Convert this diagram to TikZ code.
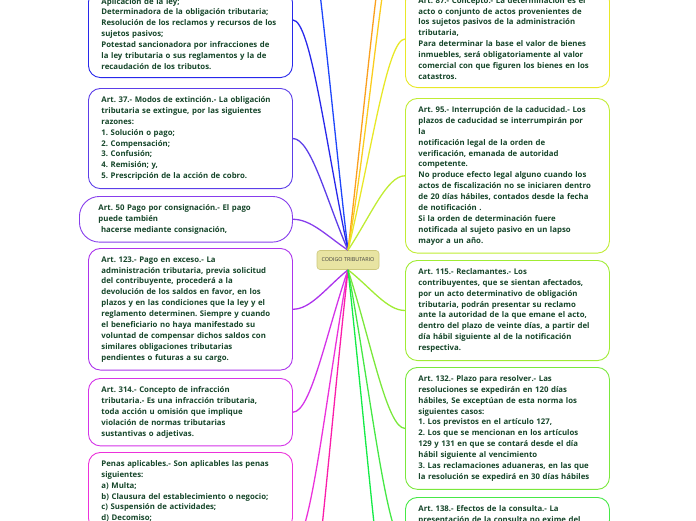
\documentclass[tikz,border=0pt]{standalone}
\usepackage{fontspec}
\setmainfont{Open Sans}
\usepackage{tikz}
\usetikzlibrary{positioning}
\frenchspacing

\definecolor{txtgreen}{RGB}{22,70,42}
\definecolor{cA}{RGB}{40,40,235}
\definecolor{cB}{RGB}{92,62,232}
\definecolor{cC}{RGB}{135,62,236}
\definecolor{cD}{RGB}{172,52,236}
\definecolor{cE}{RGB}{212,52,232}
\definecolor{cF}{RGB}{236,50,218}
\definecolor{cG}{RGB}{232,232,40}
\definecolor{cH}{RGB}{192,236,52}
\definecolor{cI}{RGB}{160,236,52}
\definecolor{cJ}{RGB}{122,232,60}
\definecolor{cK}{RGB}{70,232,70}
\definecolor{upblue}{RGB}{30,70,250}
\definecolor{uporange}{RGB}{250,160,30}
\definecolor{upgold}{RGB}{250,205,30}
\definecolor{dnpink}{RGB}{250,30,170}
\definecolor{dngreen}{RGB}{20,235,70}
\definecolor{hubfill}{RGB}{232,228,162}
\definecolor{hubdraw}{RGB}{205,200,125}

\begin{document}
\begin{tikzpicture}[
  x=1pt,y=-1pt,
  art/.style={draw,fill=white,rounded corners=12pt,line width=0.9pt,
    align=left,text width=178pt,inner xsep=13pt,inner ysep=8pt,
    font=\fontsize{7.8}{10.9}\selectfont\bfseries,text=txtgreen},
  lnk/.style={line width=1.3pt}
]
  \useasboundingbox (0,0) rectangle (696,520);

  \node[draw=hubdraw,fill=hubfill,rounded corners=3pt,line width=0.6pt,
        minimum width=62pt,minimum height=19pt,inner sep=1pt,
        font=\fontsize{5.4}{6}\selectfont,text=black!75] (cod) at (348,260) {CODIGO TRIBUTARIO};

  % left side
  \node[art,draw=cA,anchor=south west] (aplic) at (88,78)
    {Aplicación de la ley;\\
     Determinadora de la obligación tributaria;\\
     Resolución de los reclamos y recursos de los\\
     sujetos pasivos;\\
     Potestad sancionadora por infracciones de\\
     la ley tributaria o sus reglamentos y la de\\
     recaudación de los tributos.};
  \node[art,draw=cB,anchor=north west] (extin) at (88,88)
    {Art. 37.- Modos de extinción.- La obligación\\
     tributaria se extingue, por las siguientes\\
     razones:\\
     1. Solución o pago;\\
     2. Compensación;\\
     3. Confusión;\\
     4. Remisión; y,\\
     5. Prescripción de la acción de cobro.};
  \node[art,draw=cC,anchor=north west,rounded corners=20pt,
        inner xsep=19pt,text width=175pt] (consig) at (79,196)
    {Art. 50 Pago por consignación.- El pago\\
     puede también\\
     \ hacerse mediante consignación,};
  \node[art,draw=cD,anchor=north west] (exceso) at (88,248)
    {Art. 123.- Pago en exceso.- La\\
     administración tributaria, previa solicitud\\
     del contribuyente, procederá a la\\
     devolución de los saldos en favor, en los\\
     plazos y en las condiciones que la ley y el\\
     reglamento determinen. Siempre y cuando\\
     el beneficiario no haya manifestado su\\
     voluntad de compensar dichos saldos con\\
     similares obligaciones tributarias\\
     pendientes o futuras a su cargo.};
  \node[art,draw=cE,anchor=north west] (infrac) at (88,378)
    {Art. 314.- Concepto de infracción\\
     tributaria.- Es una infracción tributaria,\\
     toda acción u omisión que implique\\
     violación de normas tributarias\\
     sustantivas o adjetivas.};
  \node[art,draw=cF,anchor=north west] (penas) at (88,452)
    {Penas aplicables.- Son aplicables las penas\\
     siguientes:\\
     a) Multa;\\
     b) Clausura del establecimiento o negocio;\\
     c) Suspensión de actividades;\\
     d) Decomiso;};

  % right side
  \node[art,draw=cG,anchor=south west] (concep) at (405,88)
    {Art. 87.- Concepto.- La determinación es el\\
     acto o conjunto de actos provenientes de\\
     los sujetos pasivos de la administración\\
     tributaria,\\
     Para determinar la base el valor de bienes\\
     inmuebles, será obligatoriamente al valor\\
     comercial con que figuren los bienes en los\\
     catastros.};
  \node[art,draw=cH,anchor=north west] (caduc) at (405,98)
    {Art. 95.- Interrupción de la caducidad.- Los\\
     plazos de caducidad se interrumpirán por\\
     la\\
     notificación legal de la orden de\\
     verificación, emanada de autoridad\\
     competente.\\
     No produce efecto legal alguno cuando los\\
     actos de fiscalización no se iniciaren dentro\\
     de 20 días hábiles, contados desde la fecha\\
     de notificación .\\
     Si la orden de determinación fuere\\
     notificada al sujeto pasivo en un lapso\\
     mayor a un año.};
  \node[art,draw=cI,anchor=north west] (reclam) at (405,260)
    {Art. 115.- Reclamantes.- Los\\
     contribuyentes, que se sientan afectados,\\
     por un acto determinativo de obligación\\
     tributaria, podrán presentar su reclamo\\
     ante la autoridad de la que emane el acto,\\
     dentro del plazo de veinte días, a partir del\\
     día hábil siguiente al de la notificación\\
     respectiva.};
  \node[art,draw=cJ,anchor=north west] (plazo) at (405,367)
    {Art. 132.- Plazo para resolver.- Las\\
     resoluciones se expedirán en 120 días\\
     hábiles, Se exceptúan de esta norma los\\
     siguientes casos:\\
     1. Los previstos en el artículo 127,\\
     2. Los que se mencionan en los artículos\\
     129 y 131 en que se contará desde el día\\
     hábil siguiente al vencimiento\\
     3. Las reclamaciones aduaneras, en las que\\
     la resolución se expedirá en 30 días hábiles};
  \node[art,draw=cK,anchor=north west] (consul) at (405,497)
    {Art. 138.- Efectos de la consulta.- La\\
     presentación de la consulta no exime del};

  % where the branches meet the boxes
  \coordinate (aplicin) at ([yshift=58pt]aplic.south east);
  \coordinate (penasin) at ([yshift=-93pt]penas.north east);
  \coordinate (concepin) at ([yshift=49pt]concep.south west);
  \coordinate (consulin) at ([yshift=-48pt]consul.north west);
  % branches leaving the picture
  \coordinate (upa) at (292,-150);
  \coordinate (upb) at (405,-150);
  \coordinate (upc) at (405,-100);
  \coordinate (dna) at (292,700);
  \coordinate (dnb) at (405,700);

  \draw[lnk,upblue] (cod.north) .. controls +(-18,-151) and +(18,0) .. (upa);
  \draw[lnk,cA] (cod.north) .. controls +(-22,-104) and +(18,0) .. (aplicin);
  \draw[lnk,cB] (cod.north) .. controls +(-22,-51) and +(18,0) .. (extin.east);
  \draw[lnk,cC] (cod.north) .. controls +(-22,-15) and +(18,0) .. (consig.east);
  \draw[lnk,cD] (cod.south) .. controls +(-22,18) and +(18,0) .. (exceso.east);
  \draw[lnk,cE] (cod.south) .. controls +(-22,64) and +(18,0) .. (infrac.east);
  \draw[lnk,cF] (cod.south) .. controls +(-22,124) and +(18,0) .. (penasin);
  \draw[lnk,dnpink] (cod.south) .. controls +(-22,201) and +(18,0) .. (dna);

  \draw[lnk,uporange] (cod.north) .. controls +(18,-151) and +(-18,0) .. (upb);
  \draw[lnk,upgold] (cod.north) .. controls +(24,-141) and +(-18,0) .. (upc);
  \draw[lnk,cG] (cod.north) .. controls +(23,-95) and +(-18,0) .. (concepin);
  \draw[lnk,cH] (cod.north) .. controls +(23,-35) and +(-18,0) .. (caduc.west);
  \draw[lnk,cI] (cod.south) .. controls +(23,18) and +(-18,0) .. (reclam.west);
  \draw[lnk,cJ] (cod.south) .. controls +(23,72) and +(-18,0) .. (plazo.west);
  \draw[lnk,cK] (cod.south) .. controls +(23,124) and +(-18,0) .. (consulin);
  \draw[lnk,dngreen] (cod.south) .. controls +(22,201) and +(-18,0) .. (dnb);
\end{tikzpicture}
\end{document}
